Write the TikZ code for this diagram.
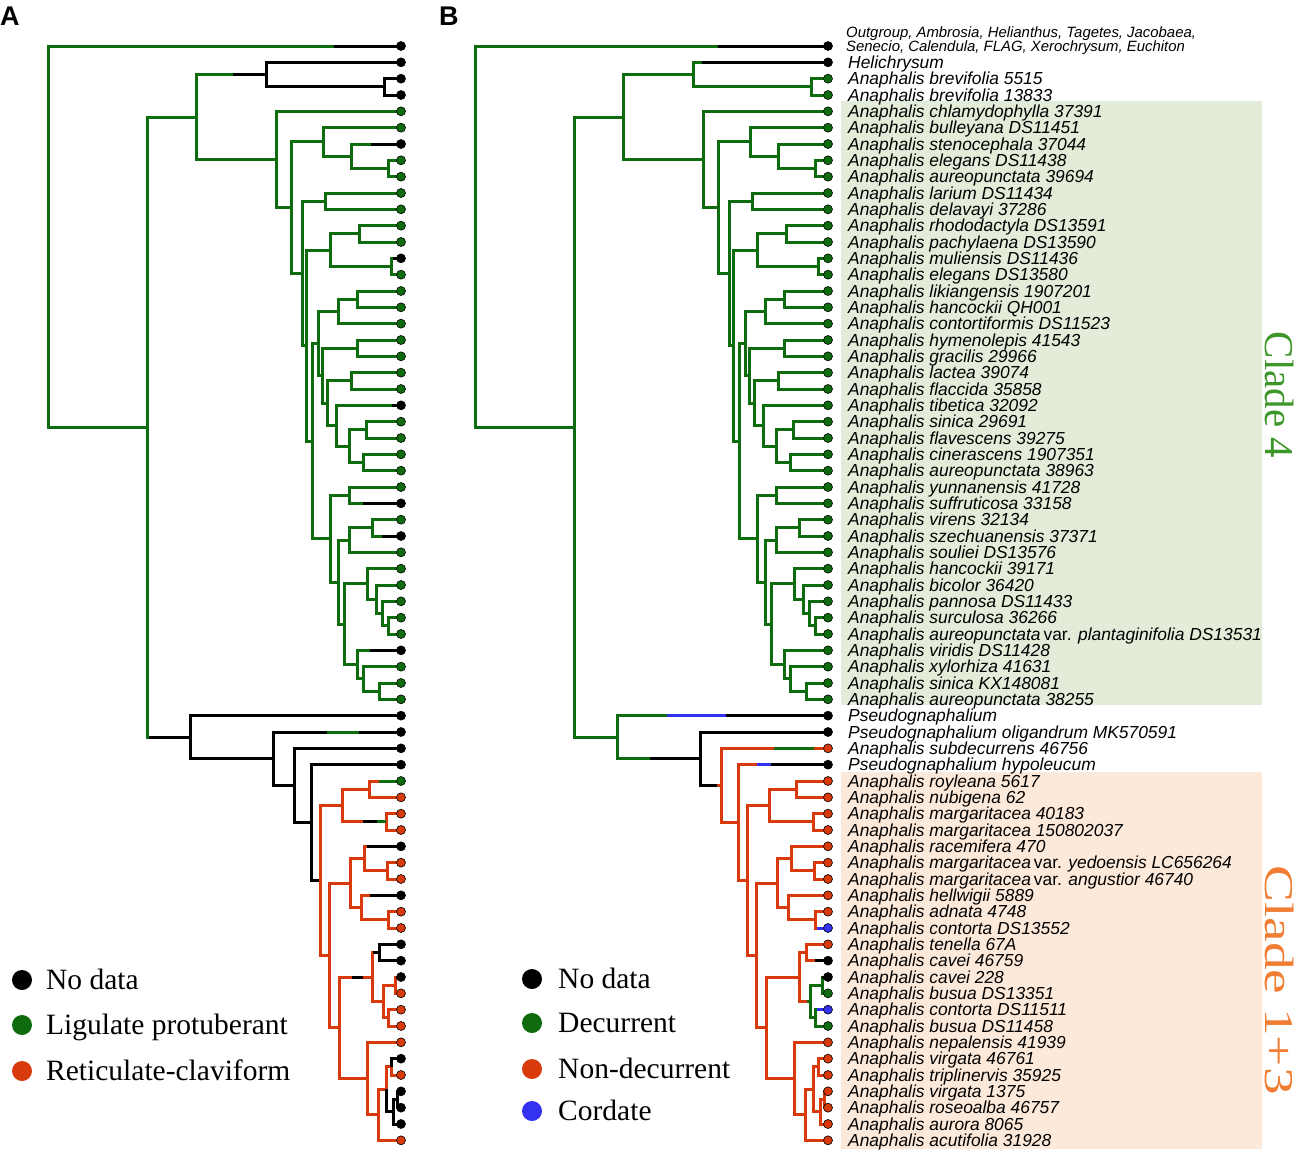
\documentclass[tikz,border=0pt]{standalone}
\usepackage{fontspec}
\setmainfont{Liberation Serif}
\newfontfamily\labfont{Liberation Sans}
\definecolor{cg}{RGB}{14,108,14}
\definecolor{cr}{RGB}{216,58,12}
\definecolor{ck}{RGB}{0,0,0}
\definecolor{cb}{RGB}{50,50,240}
\definecolor{bgG}{RGB}{226,236,216}
\definecolor{bgO}{RGB}{253,233,218}
\definecolor{clG}{RGB}{60,150,40}
\definecolor{clO}{RGB}{240,125,50}
\tikzset{
  br/.style={line width=3pt, line join=miter},
  ovl/.style={line width=3pt, line cap=butt},
  dotn/.style={circle, inner sep=0pt, minimum size=9pt, draw=black, line width=0.6pt},
  lab/.style={font=\labfont\itshape\fontsize{17.4}{18}\selectfont, inner sep=0pt, anchor=base west},
  legdot/.style={circle, inner sep=0pt, minimum size=20pt},
  legtxt/.style={font=\fontsize{29.5}{30}\selectfont, inner sep=0pt, anchor=base west},
  cladetxt/.style={font=\fontsize{41}{41}\selectfont, inner sep=0pt, rotate=-90},
  panel/.style={font=\labfont\bfseries\fontsize{27}{27}\selectfont, inner sep=0pt, anchor=base west}
}
\newcommand\myTN[3]{\coordinate (a#1) at (#2,{46+(#3-1)*16.3333});\coordinate (b#1) at ({#2+427},{46+(#3-1)*16.3333});}
\newcommand\myE[4]{\draw[br,#3] (a#1) |- (a#2);\draw[br,#4] (b#1) |- (b#2);}
\newcommand\myG[2]{\myE{#1}{#2}{cg}{cg}}
\newcommand\myOA[4]{\draw[ovl,#2] (a#1 -| #3,0) -- (a#1 -| #4,0);}
\newcommand\myOB[4]{\draw[ovl,#2] (b#1 -| #3,0) -- (b#1 -| #4,0);}
\newcommand\myLB[2]{\node[lab] (t#1) at ([xshift=20pt,yshift=-6pt]bL#1) {#2};}
\begin{document}
\begin{tikzpicture}[x=1pt,y=-1pt]
\useasboundingbox (0,0) rectangle (1299,1154);
% backgrounds
\fill[bgG] (841,101) rectangle (1262,705);
\fill[bgO] (841,772) rectangle (1262,1149);
% leaves
\foreach \i in {1,...,68}{\myTN{L\i}{401}{\i}}
% internal nodes
\myTN{root}{48}{12.666962}
\myTN{n268}{147}{24.333923}
\myTN{n241}{196}{5.349731}
\myTN{n24}{266}{2.75}
\myTN{n34}{384}{3.5}
\myTN{n541}{276}{7.949463}
\myTN{n641}{291}{10.898926}
\myTN{n69}{323}{6.875}
\myTN{n79}{351}{7.75}
\myTN{n89}{388}{8.5}
\myTN{n1041}{302}{14.922852}
\myTN{n1011}{325}{10.5}
\myTN{n1241}{306}{19.345703}
\myTN{n1215}{330}{13.5}
\myTN{n1213}{359}{12.5}
\myTN{n1415}{391}{14.5}
\myTN{n1641}{312}{25.191406}
\myTN{n1627}{318}{19.21875}
\myTN{n1618}{338}{17.25}
\myTN{n1617}{357}{16.5}
\myTN{n1927}{322}{21.1875}
\myTN{n1920}{357}{19.5}
\myTN{n2127}{327}{22.875}
\myTN{n2122}{351}{21.5}
\myTN{n2327}{336}{24.25}
\myTN{n2427}{349}{25.5}
\myTN{n2425}{366}{24.5}
\myTN{n2627}{363}{26.5}
\myTN{n2841}{330}{31.164063}
\myTN{n2829}{349}{28.5}
\myTN{n3041}{338}{33.828125}
\myTN{n3032}{349}{31.25}
\myTN{n3031}{372}{30.5}
\myTN{n3341}{344}{36.40625}
\myTN{n3337}{367}{33.9375}
\myTN{n3437}{376}{34.875}
\myTN{n3537}{382}{35.75}
\myTN{n3637}{388}{36.5}
\myTN{n3841}{357}{38.875}
\myTN{n3941}{363}{39.75}
\myTN{n4041}{379}{40.5}
\myTN{n4268}{190}{43.318115}
\myTN{n4368}{273}{44.63623}
\myTN{n4468}{294}{46.27246}
\myTN{n4568}{311}{48.54492}
\myTN{n4668}{320}{52.08984}
\myTN{n4649}{342}{47.5}
\myTN{n4647}{369}{46.5}
\myTN{n4849}{386}{48.5}
\myTN{n5068}{329}{56.679688}
\myTN{n5055}{350}{52.25}
\myTN{n5052}{364}{50.75}
\myTN{n5152}{387}{51.5}
\myTN{n5355}{361}{53.75}
\myTN{n5455}{388}{54.5}
\myTN{n5668}{339}{61.109375}
\myTN{n5661}{372}{58}
\myTN{n5657}{379}{56.5}
\myTN{n5861}{383}{59.5}
\myTN{n5859}{395}{58.5}
\myTN{n6061}{388}{60.5}
\myTN{n6268}{367}{64.21875}
\myTN{n6368}{378}{66.4375}
\myTN{n6367}{386}{64.875}
\myTN{n6364}{391}{63.5}
\myTN{n6567}{393}{66.25}
\myTN{n6566}{397}{65.5}
% edges
\myG{root}{L1}
\myG{root}{n268}
\myG{n268}{n241}
\myG{n268}{n4268}
\myG{n241}{n24}
\myE{n24}{L2}{ck}{cg}
\myE{n24}{n34}{ck}{cg}
\myE{n34}{L3}{ck}{cg}
\myE{n34}{L4}{ck}{cg}
\myG{n241}{n541}
\myG{n541}{L5}\myG{n541}{n641}
\myG{n641}{n69}\myG{n641}{n1041}
\myG{n69}{L6}\myG{n69}{n79}
\myG{n79}{L7}\myG{n79}{n89}
\myG{n89}{L8}\myG{n89}{L9}
\myG{n1041}{n1011}\myG{n1041}{n1241}
\myG{n1011}{L10}\myG{n1011}{L11}
\myG{n1241}{n1215}\myG{n1241}{n1641}
\myG{n1215}{n1213}\myG{n1215}{n1415}
\myG{n1213}{L12}\myG{n1213}{L13}
\myG{n1415}{L14}\myG{n1415}{L15}
\myG{n1641}{n1627}\myG{n1641}{n2841}
\myG{n1627}{n1618}\myG{n1627}{n1927}
\myG{n1618}{n1617}\myG{n1618}{L18}
\myG{n1617}{L16}\myG{n1617}{L17}
\myG{n1927}{n1920}\myG{n1927}{n2127}
\myG{n1920}{L19}\myG{n1920}{L20}
\myG{n2127}{n2122}\myG{n2127}{n2327}
\myG{n2122}{L21}\myG{n2122}{L22}
\myG{n2327}{L23}\myG{n2327}{n2427}
\myG{n2427}{n2425}\myG{n2427}{n2627}
\myG{n2425}{L24}\myG{n2425}{L25}
\myG{n2627}{L26}\myG{n2627}{L27}
\myG{n2841}{n2829}\myG{n2841}{n3041}
\myG{n2829}{L28}\myG{n2829}{L29}
\myG{n3041}{n3032}\myG{n3041}{n3341}
\myG{n3032}{n3031}\myG{n3032}{L32}
\myG{n3031}{L30}\myG{n3031}{L31}
\myG{n3341}{n3337}\myG{n3341}{n3841}
\myG{n3337}{L33}\myG{n3337}{n3437}
\myG{n3437}{L34}\myG{n3437}{n3537}
\myG{n3537}{L35}\myG{n3537}{n3637}
\myG{n3637}{L36}\myG{n3637}{L37}
\myG{n3841}{L38}\myG{n3841}{n3941}
\myG{n3941}{L39}\myG{n3941}{n4041}
\myG{n4041}{L40}\myG{n4041}{L41}
% lower tree
\myE{n4268}{L42}{ck}{cg}
\myE{n4268}{n4368}{ck}{cg}
\myE{n4368}{L43}{ck}{ck}
\myE{n4368}{n4468}{ck}{ck}
\myE{n4468}{L44}{ck}{cr}
\myE{n4468}{n4568}{ck}{cr}
\myE{n4568}{L45}{ck}{cr}
\myE{n4568}{n4668}{ck}{cr}
\myE{n4668}{n4649}{cr}{cr}
\myE{n4649}{n4647}{cr}{cr}
\myE{n4647}{L46}{cr}{cr}
\myE{n4647}{L47}{cr}{cr}
\myE{n4649}{n4849}{cr}{cr}
\myE{n4849}{L48}{cr}{cr}
\myE{n4849}{L49}{cr}{cr}
\myE{n4668}{n5068}{cr}{cr}
\myE{n5068}{n5055}{cr}{cr}
\myE{n5055}{n5052}{cr}{cr}
\myE{n5052}{L50}{cr}{cr}
\myE{n5052}{n5152}{cr}{cr}
\myE{n5152}{L51}{cr}{cr}
\myE{n5152}{L52}{cr}{cr}
\myE{n5055}{n5355}{cr}{cr}
\myE{n5355}{L53}{cr}{cr}
\myE{n5355}{n5455}{cr}{cr}
\myE{n5455}{L54}{cr}{cr}
\myE{n5455}{L55}{cr}{cr}
\myE{n5068}{n5668}{cr}{cr}
\myE{n5668}{n5661}{cr}{cr}
\myE{n5661}{n5657}{cr}{cr}
\myE{n5657}{L56}{ck}{cr}
\myE{n5657}{L57}{ck}{cr}
\myE{n5661}{n5861}{cr}{cr}
\myE{n5861}{n5859}{cr}{cg}
\myE{n5859}{L58}{cr}{cg}
\myE{n5859}{L59}{cr}{cg}
\myE{n5861}{n6061}{cr}{cg}
\myE{n6061}{L60}{cr}{cg}
\myE{n6061}{L61}{cr}{cg}
\myE{n5668}{n6268}{cr}{cr}
\myE{n6268}{L62}{cr}{cr}
\myE{n6268}{n6368}{cr}{cr}
\myE{n6368}{L68}{cr}{cr}
\myE{n6368}{n6367}{cr}{cr}
\myE{n6367}{n6364}{cr}{cr}
\myE{n6364}{L63}{ck}{cr}
\myE{n6364}{L64}{cr}{cr}
\myE{n6367}{n6567}{ck}{cr}
\myE{n6567}{n6566}{ck}{cr}
\myE{n6567}{L67}{ck}{cr}
\myE{n6566}{L65}{ck}{cr}
\myE{n6566}{L66}{ck}{cr}
% overlays panel A
\myOA{L1}{ck}{334}{401}
\myOA{n4268}{ck}{148.5}{190}
\myOA{n24}{ck}{233}{266}
\myOA{L7}{ck}{371}{401}
\myOA{L14}{ck}{393}{401}
\myOA{L23}{ck}{392}{401}
\myOA{L29}{ck}{363}{401}
\myOA{L31}{ck}{382}{401}
\myOA{L38}{ck}{370}{401}
\myOA{L43}{cg}{327}{359}
\myOA{L46}{cg}{379}{401}
\myOA{n4849}{ck}{363}{377}
\myOA{n4849}{cg}{377}{386}
\myOA{L50}{ck}{367}{401}
\myOA{L53}{ck}{370}{401}
\myOA{n5661}{ck}{352}{363}
\myOA{n5657}{ck}{373}{379}
\myOA{L58}{ck}{396}{401}
% overlays panel B
\myOB{L1}{ck}{718}{828}
\myOB{L2}{ck}{702}{828}
\myOB{L42}{cb}{667}{726}
\myOB{L42}{ck}{726}{828}
\myOB{n4368}{ck}{650}{700}
\myOB{n4468}{cr}{717}{721}
\myOB{L44}{cg}{774}{814}
\myOB{L45}{cb}{757}{771}
\myOB{L45}{ck}{771}{828}
\myOB{L55}{cb}{817}{828}
\myOB{L57}{ck}{815}{828}
\myOB{n5861}{cg}{807}{810}
\myOB{L58}{ck}{822}{828}
\myOB{L60}{cb}{817}{828}
% leaf dots
\foreach \i/\ca/\cbb in {1/ck/ck,2/ck/ck,3/ck/cg,4/ck/cg,5/cg/cg,6/cg/cg,7/ck/cg,8/cg/cg,9/cg/cg,10/cg/cg,
 11/cg/cg,12/cg/cg,13/cg/cg,14/ck/cg,15/cg/cg,16/cg/cg,17/cg/cg,18/cg/cg,19/cg/cg,20/cg/cg,
 21/cg/cg,22/cg/cg,23/ck/cg,24/cg/cg,25/cg/cg,26/cg/cg,27/cg/cg,28/cg/cg,29/ck/cg,30/cg/cg,
 31/ck/cg,32/cg/cg,33/cg/cg,34/cg/cg,35/cg/cg,36/cg/cg,37/cg/cg,38/ck/cg,39/cg/cg,40/cg/cg,
 41/cg/cg,42/ck/ck,43/ck/ck,44/ck/cr,45/ck/ck,46/cg/cr,47/cr/cr,48/cr/cr,49/cr/cr,50/ck/cr,
 51/cr/cr,52/cr/cr,53/ck/cr,54/cr/cr,55/cr/cb,56/ck/cr,57/ck/ck,58/ck/ck,59/cr/cg,60/cr/cb,
 61/cr/cg,62/cr/cr,63/ck/cr,64/cr/cr,65/ck/cr,66/ck/cr,67/ck/cr,68/cr/cr}{
  \node[dotn,fill=\ca] (da\i) at (aL\i) {};
  \node[dotn,fill=\cbb] (db\i) at (bL\i) {};
}
% labels
\node[font=\labfont\itshape\fontsize{14.9}{14}\selectfont, inner sep=0pt, anchor=base west, align=left] (t1) at ([xshift=18pt,yshift=-5pt]bL1) {Outgroup, Ambrosia, Helianthus, Tagetes, Jacobaea,\\Senecio, Calendula, FLAG, Xerochrysum, Euchiton};
\myLB{2}{Helichrysum}
\myLB{3}{Anaphalis brevifolia 5515}
\myLB{4}{Anaphalis brevifolia 13833}
\myLB{5}{Anaphalis chlamydophylla 37391}
\myLB{6}{Anaphalis bulleyana DS11451}
\myLB{7}{Anaphalis stenocephala 37044}
\myLB{8}{Anaphalis elegans DS11438}
\myLB{9}{Anaphalis aureopunctata 39694}
\myLB{10}{Anaphalis larium DS11434}
\myLB{11}{Anaphalis delavayi 37286}
\myLB{12}{Anaphalis rhododactyla DS13591}
\myLB{13}{Anaphalis pachylaena DS13590}
\myLB{14}{Anaphalis muliensis DS11436}
\myLB{15}{Anaphalis elegans DS13580}
\myLB{16}{Anaphalis likiangensis 1907201}
\myLB{17}{Anaphalis hancockii QH001}
\myLB{18}{Anaphalis contortiformis DS11523}
\myLB{19}{Anaphalis hymenolepis 41543}
\myLB{20}{Anaphalis gracilis 29966}
\myLB{21}{Anaphalis lactea 39074}
\myLB{22}{Anaphalis flaccida 35858}
\myLB{23}{Anaphalis tibetica 32092}
\myLB{24}{Anaphalis sinica 29691}
\myLB{25}{Anaphalis flavescens 39275}
\myLB{26}{Anaphalis cinerascens 1907351}
\myLB{27}{Anaphalis aureopunctata 38963}
\myLB{28}{Anaphalis yunnanensis 41728}
\myLB{29}{Anaphalis suffruticosa 33158}
\myLB{30}{Anaphalis virens 32134}
\myLB{31}{Anaphalis szechuanensis 37371}
\myLB{32}{Anaphalis souliei DS13576}
\myLB{33}{Anaphalis hancockii 39171}
\myLB{34}{Anaphalis bicolor 36420}
\myLB{35}{Anaphalis pannosa DS11433}
\myLB{36}{Anaphalis surculosa 36266}
\myLB{37}{Anaphalis aureopunctata\,{\upshape var.} plantaginifolia DS13531}
\myLB{38}{Anaphalis viridis DS11428}
\myLB{39}{Anaphalis xylorhiza 41631}
\myLB{40}{Anaphalis sinica KX148081}
\myLB{41}{Anaphalis aureopunctata 38255}
\myLB{42}{Pseudognaphalium}
\myLB{43}{Pseudognaphalium oligandrum MK570591}
\myLB{44}{Anaphalis subdecurrens 46756}
\myLB{45}{Pseudognaphalium hypoleucum}
\myLB{46}{Anaphalis royleana 5617}
\myLB{47}{Anaphalis nubigena 62}
\myLB{48}{Anaphalis margaritacea 40183}
\myLB{49}{Anaphalis margaritacea 150802037}
\myLB{50}{Anaphalis racemifera 470}
\myLB{51}{Anaphalis margaritacea\,{\upshape var.} yedoensis LC656264}
\myLB{52}{Anaphalis margaritacea\,{\upshape var.} angustior 46740}
\myLB{53}{Anaphalis hellwigii 5889}
\myLB{54}{Anaphalis adnata 4748}
\myLB{55}{Anaphalis contorta DS13552}
\myLB{56}{Anaphalis tenella 67A}
\myLB{57}{Anaphalis cavei 46759}
\myLB{58}{Anaphalis cavei 228}
\myLB{59}{Anaphalis busua DS13351}
\myLB{60}{Anaphalis contorta DS11511}
\myLB{61}{Anaphalis busua DS11458}
\myLB{62}{Anaphalis nepalensis 41939}
\myLB{63}{Anaphalis virgata 46761}
\myLB{64}{Anaphalis triplinervis 35925}
\myLB{65}{Anaphalis virgata 1375}
\myLB{66}{Anaphalis roseoalba 46757}
\myLB{67}{Anaphalis aurora 8065}
\myLB{68}{Anaphalis acutifolia 31928}
% clade labels
\node[cladetxt, text=clG] (c4) at (1280,395) {Clade 4};
\node[cladetxt, text=clO, xscale=1.35] (c13) at (1280,980) {Clade 1+3};
% panel letters
\node[panel] (pA) at (0,25) {A};
\node[panel] (pB) at (439,25) {B};
% legend A
\node[legdot, fill=ck] (lad1) at (22,980) {};
\node[legtxt] (lat1) at (46,989) {No data};
\node[legdot, fill=cg] (lad2) at (22,1025) {};
\node[legtxt] (lat2) at (46,1034) {Ligulate protuberant};
\node[legdot, fill=cr] (lad3) at (22,1071) {};
\node[legtxt] (lat3) at (46,1080) {Reticulate-claviform};
% legend B
\node[legdot, fill=ck] (lbd1) at (532,979) {};
\node[legtxt] (lbt1) at (558,988) {No data};
\node[legdot, fill=cg] (lbd2) at (532,1023) {};
\node[legtxt] (lbt2) at (558,1032) {Decurrent};
\node[legdot, fill=cr] (lbd3) at (532,1069) {};
\node[legtxt] (lbt3) at (558,1078) {Non-decurrent};
\node[legdot, fill=cb] (lbd4) at (532,1111) {};
\node[legtxt] (lbt4) at (558,1120) {Cordate};
\end{tikzpicture}
\end{document}
